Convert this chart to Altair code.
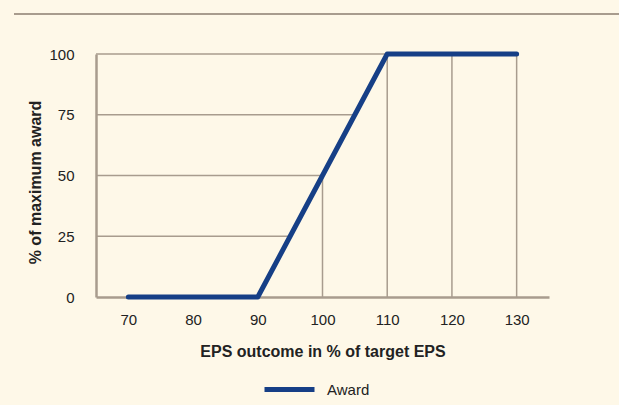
import altair as alt
import pandas as pd

# Data
eps_outcome = [70, 80, 90, 100, 110, 120, 130]
award_pct = [0, 0, 0, 50, 100, 100, 100]

# horizontal guide lines (left of the curve)
hgrid_y = [25, 50, 75, 100]
hgrid_x_end = [95, 100, 105, 110]
# vertical guide lines (below the curve)
vgrid_x = [100, 110, 120, 130]
vgrid_y_end = [50, 100, 100, 100]

BG = "#FEF8E8"
GRID = "#A89C8E"
BLUE = "#163F86"
FONT = "Liberation Sans"
TXT = "#222222"

df = pd.DataFrame({"x": eps_outcome, "y": award_pct, "series": ["Award"] * len(eps_outcome)})
hdf = pd.DataFrame({"y": hgrid_y, "x": [65] * len(hgrid_y), "x2": hgrid_x_end})
vdf = pd.DataFrame({"x": vgrid_x, "y": [0] * len(vgrid_x), "y2": vgrid_y_end})

xscale = alt.Scale(domain=[65, 135], nice=False, zero=False)
yscale = alt.Scale(domain=[0, 100], nice=False)

hrules = alt.Chart(hdf).mark_rule(color=GRID, strokeWidth=1.5).encode(
    x=alt.X("x:Q", scale=xscale),
    x2="x2:Q",
    y=alt.Y("y:Q", scale=yscale),
)
vrules = alt.Chart(vdf).mark_rule(color=GRID, strokeWidth=1.5).encode(
    x=alt.X("x:Q", scale=xscale),
    y=alt.Y("y:Q", scale=yscale),
    y2="y2:Q",
)

line = alt.Chart(df).mark_line(strokeWidth=5, strokeCap="round", strokeJoin="round").encode(
    x=alt.X(
        "x:Q",
        scale=xscale,
        axis=alt.Axis(
            title="EPS outcome in % of target EPS",
            values=eps_outcome,
            grid=False,
            ticks=False,
            domainColor=GRID,
            domainWidth=2.5,
            labelPadding=15,
            labelFontSize=15,
            labelColor=TXT,
            labelFont=FONT,
            titleFont=FONT,
            titleFontSize=16,
            titleFontWeight="bold",
            titleColor=TXT,
            titlePadding=16,
        ),
    ),
    y=alt.Y(
        "y:Q",
        scale=yscale,
        axis=alt.Axis(
            title="% of maximum award",
            values=[0, 25, 50, 75, 100],
            grid=False,
            ticks=False,
            domainColor=GRID,
            domainWidth=2.5,
            labelPadding=22,
            labelFontSize=15,
            labelColor=TXT,
            labelFont=FONT,
            titleFont=FONT,
            titleFontSize=16,
            titleFontWeight="bold",
            titleColor=TXT,
            titlePadding=5,
            titleY=128,
        ),
    ),
    color=alt.Color(
        "series:N",
        scale=alt.Scale(domain=["Award"], range=[BLUE]),
        legend=alt.Legend(
            title=None,
            orient="none",
            legendX=166,
            legendY=308,
            symbolType="stroke",
            symbolSize=2500,
            symbolStrokeWidth=5,
            labelFont=FONT,
            labelFontSize=15,
            labelColor=TXT,
            labelOffset=10,
        ),
    ),
)

topline = alt.Chart(pd.DataFrame({"k": [0]})).mark_rule(color=GRID, strokeWidth=2).encode(
    x=alt.value(-82), x2=alt.value(523), y=alt.value(-40)
)

chart = (
    alt.layer(hrules, vrules, line, topline)
    .properties(
        width=453,
        height=243,
        autosize=alt.AutoSizeParams(type="none"),
        padding={"left": 96, "top": 54, "right": 70, "bottom": 108},
        background=BG,
    )
    .configure_view(stroke=None)
)

chart.save("out.html", embed_options={"renderer": "svg", "actions": False})
